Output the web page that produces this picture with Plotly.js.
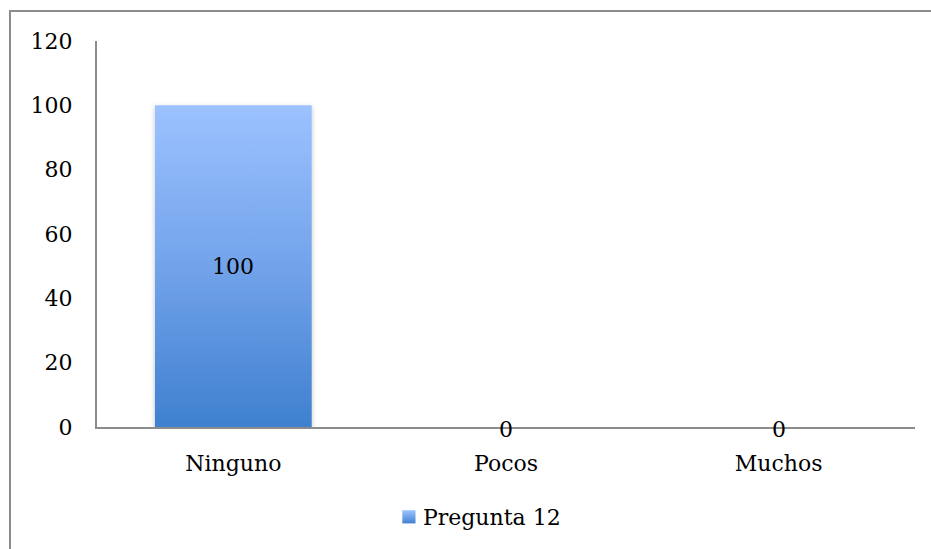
<!DOCTYPE html>
<html>
<head>
<meta charset="utf-8">
<script src="https://cdn.plot.ly/plotly-3.0.1.min.js"></script>
<style>
  html, body { margin: 0; padding: 0; overflow: hidden; background: #fff; }
  #frame { position: absolute; left: 9px; top: 10px; width: 1000px; height: 700px;
           border: 2px solid #8c8c8c; box-sizing: border-box; z-index: 0; }
  #chart { position: absolute; left: 0; top: 0; width: 931px; height: 549px; z-index: 1; }
</style>
</head>
<body>
<div id="frame"></div>
<div id="chart"></div>
<script>
const categories = ["Ninguno", "Pocos", "Muchos"];
const values = [100, 0, 0];
const seriesName = "Pregunta 12";
const yTicks = [0, 20, 40, 60, 80, 100, 120];

const fontFam = "DejaVu Serif";
const fs = 22;

const trace = {
  type: "bar",
  x: categories,
  y: values,
  name: seriesName,
  marker: { color: "#6fa0e6", line: { width: 0 } },
  showlegend: true,
  hoverinfo: "none"
};

const annotations = categories.map((c, i) => ({
  x: c, y: values[i] / 2, xref: "x", yref: "y",
  text: String(values[i]), showarrow: false,
  xanchor: "center", yanchor: "middle", yshift: values[i] === 0 ? -2 : 0,
  font: { family: fontFam, size: fs, color: "#000" }
}));

const layout = {
  width: 931, height: 549,
  margin: { l: 97, r: 16, t: 41, b: 121 },
  paper_bgcolor: "rgba(0,0,0,0)",
  plot_bgcolor: "rgba(0,0,0,0)",
  font: { family: fontFam, size: fs, color: "#000" },
  bargap: 0.425,
  xaxis: {
    showline: true, linecolor: "#8c8c8c", linewidth: 2,
    showgrid: false, zeroline: false,
    ticks: "outside", ticklen: 16, tickcolor: "rgba(0,0,0,0)",
    tickfont: { family: fontFam, size: fs, color: "#000" }
  },
  yaxis: {
    range: [0, 120], tickvals: yTicks, ticktext: yTicks.map(String),
    showline: true, linecolor: "#8c8c8c", linewidth: 2,
    showgrid: false, zeroline: false,
    ticks: "outside", ticklen: 18, tickcolor: "rgba(0,0,0,0)",
    tickfont: { family: fontFam, size: fs, color: "#000" }
  },
  legend: {
    orientation: "h", x: 0.4614, xanchor: "center", y: -0.23, yanchor: "middle",
    font: { family: fontFam, size: fs, color: "#000" },
    itemwidth: 30
  },
  annotations: annotations
};

Plotly.newPlot("chart", [trace], layout, { staticPlot: true }).then(gd => {
  const svg = gd.querySelector("svg.main-svg");
  const ns = "http://www.w3.org/2000/svg";
  let defs = svg.querySelector("defs");
  if (!defs) { defs = document.createElementNS(ns, "defs"); svg.insertBefore(defs, svg.firstChild); }
  const grad = document.createElementNS(ns, "linearGradient");
  grad.setAttribute("id", "barGrad");
  grad.setAttribute("x1", "0"); grad.setAttribute("y1", "0");
  grad.setAttribute("x2", "0"); grad.setAttribute("y2", "1");
  [["0", "#9cc2ff"], ["0.5", "#72a3ea"], ["1", "#3f80cf"]].forEach(([o, c]) => {
    const s = document.createElementNS(ns, "stop");
    s.setAttribute("offset", o); s.setAttribute("stop-color", c);
    grad.appendChild(s);
  });
  defs.appendChild(grad);
  const filt = document.createElementNS(ns, "filter");
  filt.setAttribute("id", "barShadow");
  filt.setAttribute("x", "-10%"); filt.setAttribute("y", "-10%");
  filt.setAttribute("width", "120%"); filt.setAttribute("height", "120%");
  const ds = document.createElementNS(ns, "feDropShadow");
  ds.setAttribute("dx", "0"); ds.setAttribute("dy", "2");
  ds.setAttribute("stdDeviation", "2.5"); ds.setAttribute("flood-color", "#000");
  ds.setAttribute("flood-opacity", "0.25");
  filt.appendChild(ds);
  defs.appendChild(filt);
  gd.querySelectorAll(".barlayer .point path").forEach(p => {
    p.style.fill = "url(#barGrad)";
    p.setAttribute("filter", "url(#barShadow)");
  });
  gd.querySelectorAll(".legend .legendpoints path").forEach(p => {
    p.style.fill = "url(#barGrad)";
    p.setAttribute("transform", (p.getAttribute("transform") || "") + " translate(6,0) scale(1.1)");
  });
});
</script>
</body>
</html>
